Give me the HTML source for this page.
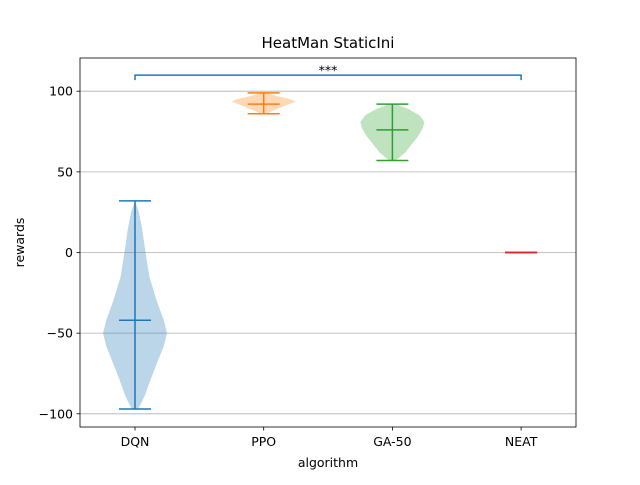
<!DOCTYPE html>
<html><head><meta charset="utf-8"><style>
body{margin:0;background:#fff;font-family:"Liberation Sans","DejaVu Sans",sans-serif}
svg text{font-family:"DejaVu Sans","Liberation Sans",sans-serif}
</style></head><body>
<svg id="chart" width="640" height="480" xmlns="http://www.w3.org/2000/svg">
<rect width="640" height="480" fill="#fff"/>
<g id="grid"></g><g id="violins"></g><g id="axes"></g>
</svg>
<script>
const categories=["DQN","PPO","GA-50","NEAT"];
const colors=["#1f77b4","#ff7f0e","#2ca02c","#d62728"];
const mins=[-97,86,57,0];
const maxs=[32,99,92,0];
const medians=[-42,92,76,0];
const profileDQN=[[32,0],[25,0.12],[15,0.22],[0,0.33],[-15,0.45],[-30,0.68],[-42,0.9],[-50,1.0],[-58,0.9],[-68,0.7],[-78,0.5],[-88,0.32],[-94,0.18],[-97,0.1]];
const profilePPO=[[99,0.1],[97,0.4],[95,0.85],[93.5,1.0],[92,0.8],[90,0.55],[88,0.3],[86,0.1]];
const profileGA=[[92,0.1],[89,0.5],[85,0.85],[81,1.0],[77,0.95],[72,0.8],[67,0.6],[62,0.4],[59,0.22],[57,0.1]];
const profiles=[profileDQN,profilePPO,profileGA,[]];
const yTicks=[-100,-50,0,50,100];
const NS="http://www.w3.org/2000/svg";
const L=80,R=576,T=58,B=427;
function ys(v){return 252.5-v*1.613;}
function xs(i){return 135+i*128.7;}
function mk(tag,attrs,parent,text){const e=document.createElementNS(NS,tag);for(const k in attrs)e.setAttribute(k,attrs[k]);if(text!==undefined)e.textContent=text;parent.appendChild(e);return e;}
const grid=document.getElementById('grid'),vg=document.getElementById('violins'),ax=document.getElementById('axes');
yTicks.forEach(t=>{
 const g=mk('line',{x1:L,x2:R,y1:ys(t),y2:ys(t),stroke:'#b0b0b0','stroke-width':0.8},grid);
 
 
 mk('line',{x1:L-3.5,x2:L,y1:ys(t),y2:ys(t),stroke:'#000','stroke-width':0.8},ax);
 const tx=mk('text',{x:L-7,y:ys(t)+4.5,'text-anchor':'end','font-size':12.5},ax,String(t).replace('-','\u2212'));
 
 
});
categories.forEach((c,i)=>{
 const x=xs(i),col=colors[i];
 const p=profiles[i];
 if(p.length){
  let pts=p.map(q=>(x+q[1]*32)+','+ys(q[0]));
  pts=pts.concat(p.slice().reverse().map(q=>(x-q[1]*32)+','+ys(q[0])));
  const poly=mk('polygon',{points:pts.join(' '),fill:col,'fill-opacity':0.3,stroke:'none'},vg);
  
  
 }
 const s={stroke:col,'stroke-width':1.5};
 mk('line',Object.assign({x1:x,x2:x,y1:ys(mins[i]),y2:ys(maxs[i])},s),vg);
 [mins[i],maxs[i],medians[i]].forEach(v=>{
  const ln=mk('line',Object.assign({x1:x-16,x2:x+16,y1:ys(v),y2:ys(v)},s),vg);
  
  
 });
 mk('line',{x1:x,x2:x,y1:B,y2:B+3.5,stroke:'#000','stroke-width':0.8},ax);
 const tx=mk('text',{x:x,y:B+19,'text-anchor':'middle','font-size':12.5},ax,c);
 
 
});
const br=mk('path',{d:`M${xs(0)},${ys(110)+5}V${ys(110)}H${xs(3)}V${ys(110)+5}`,fill:'none',stroke:'#1f77b4','stroke-width':1.5},ax);


const st=mk('text',{x:(xs(0)+xs(3))/2,y:ys(110)-0.5,'text-anchor':'middle','font-size':12.5},ax,'***');


const fr=mk('rect',{x:L,y:T,width:R-L,height:B-T,fill:'none',stroke:'#000','stroke-width':0.8},ax);


const ti=mk('text',{x:(L+R)/2,y:48,'text-anchor':'middle','font-size':15},ax,'HeatMan StaticIni');


const xl=mk('text',{x:(L+R)/2,y:467,'text-anchor':'middle','font-size':12.5},ax,'algorithm');


const yl=mk('text',{x:0,y:0,'text-anchor':'middle','font-size':12.5,transform:`translate(24,${(T+B)/2}) rotate(-90)`},ax,'rewards');


</script>
</body></html>
